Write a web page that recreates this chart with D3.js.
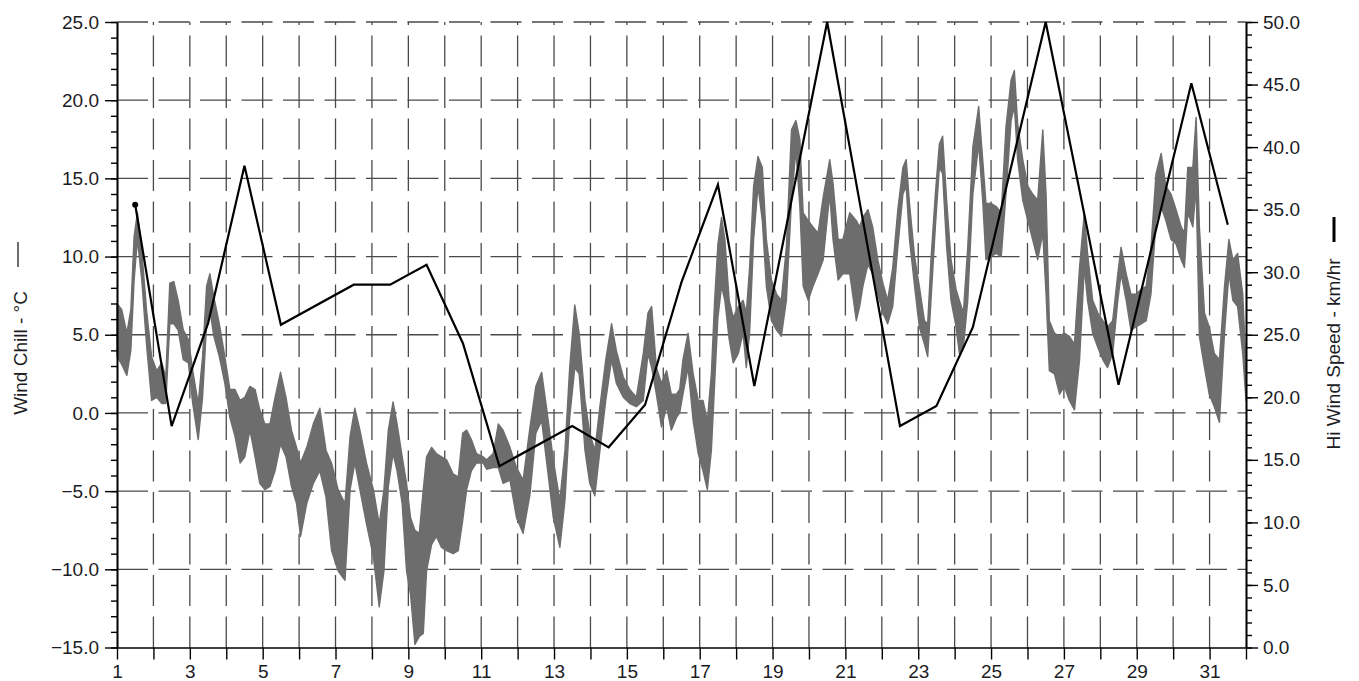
<!DOCTYPE html>
<html>
<head>
<meta charset="utf-8">
<script src="https://cdn.jsdelivr.net/npm/d3@7"></script>
<style>
  body { margin: 0; background: #fff; }
  text { font-family: "Liberation Sans", Arial, sans-serif; }
</style>
</head>
<body>
<div id="chart"></div>
<script>
const chillDay = [1.00,1.13,1.27,1.38,1.47,1.56,1.68,1.81,1.95,2.09,2.23,2.34,2.45,2.56,2.68,2.82,2.96,3.08,3.23,3.35,3.46,3.55,3.66,3.81,3.96,
  4.10,4.24,4.38,4.51,4.65,4.79,4.92,5.06,5.20,5.34,5.49,5.64,5.79,5.93,6.04,6.21,6.39,6.57,6.74,6.89,7.07,7.26,7.40,7.53,7.67,7.85,
  8.04,8.20,8.33,8.45,8.58,8.69,8.83,8.95,9.06,9.18,9.30,9.41,9.50,9.64,9.77,9.91,10.05,10.23,10.37,10.49,10.60,10.73,10.87,11.05,
  11.15,11.33,11.47,11.60,11.79,11.97,12.15,12.34,12.50,12.66,12.79,12.98,13.16,13.30,13.43,13.57,13.69,13.85,13.98,14.12,14.26,14.42,
  14.58,14.71,14.90,15.08,15.26,15.45,15.58,15.68,15.81,15.95,16.09,16.22,16.36,16.45,16.54,16.68,16.82,16.96,17.09,17.21,17.32,17.41,
  17.50,17.60,17.69,17.81,17.92,18.06,18.19,18.28,18.37,18.48,18.60,18.72,18.83,18.97,19.11,19.24,19.38,19.52,19.64,19.75,19.84,19.98,
  20.11,20.25,20.39,20.57,20.66,20.80,20.93,21.12,21.30,21.39,21.48,21.62,21.75,21.89,22.03,22.16,22.30,22.44,22.58,22.67,22.76,22.90,
  23.03,23.17,23.26,23.35,23.47,23.58,23.67,23.78,23.90,24.04,24.13,24.24,24.36,24.50,24.66,24.77,24.86,25.00,25.14,25.28,25.41,25.55,
  25.64,25.73,25.87,26.01,26.14,26.28,26.42,26.51,26.60,26.74,26.88,27.01,27.15,27.29,27.43,27.56,27.65,27.79,27.93,28.07,28.20,28.34,
  28.48,28.57,28.71,28.84,28.98,29.12,29.26,29.39,29.53,29.67,29.80,29.94,30.08,30.22,30.31,30.40,30.54,30.63,30.72,30.86,30.99,31.13,
  31.27,31.41,31.53,31.64,31.77,31.91,32.00];
const chillLow = [3.6,3.1,2.4,4.0,8.5,11.1,8.5,4.4,0.8,1.0,0.6,0.6,5.7,5.7,5.3,3.4,3.2,0.6,-1.7,1.0,5.7,6.6,4.9,3.6,1.9,
  -0.3,-1.5,-3.2,-2.8,-1.1,-2.8,-4.5,-4.9,-4.7,-3.7,-2.0,-2.8,-4.7,-5.8,-7.9,-5.8,-4.5,-3.7,-5.4,-8.8,-10.1,-10.7,-4.9,-3.2,-4.9,-7.1,
  -9.2,-12.4,-10.1,-4.7,-2.6,-3.7,-5.8,-10.1,-11.6,-14.8,-14.3,-14.1,-10.1,-8.4,-7.9,-8.6,-8.8,-9.0,-8.8,-6.9,-4.9,-3.7,-3.2,-3.2,
  -3.6,-3.5,-3.5,-4.5,-4.3,-6.7,-7.7,-5.2,-1.3,-0.5,-3.0,-6.7,-8.6,-5.6,-0.3,2.9,2.5,-2.4,-4.5,-5.3,-2.4,0.8,
  3.4,1.9,1.0,0.6,0.4,0.8,3.8,2.9,1.2,-0.9,0.4,-1.1,-0.3,0.0,1.2,2.9,-0.5,-2.6,-3.7,-4.9,-2.4,1.9,
  6.1,8.1,7.2,4.7,3.2,3.8,5.1,2.9,5.1,11.1,14.5,12.3,8.1,5.9,5.3,4.9,7.2,13.6,16.8,13.2,8.1,7.2,
  8.1,8.9,9.8,14.0,11.1,8.5,8.9,8.9,5.9,6.8,8.1,9.5,8.9,7.6,6.4,5.7,6.8,10.6,14.0,14.5,11.1,8.1,
  5.5,4.4,3.6,7.2,11.9,15.7,15.3,10.6,7.2,5.5,3.8,4.2,7.2,14.0,17.2,13.6,9.8,10.0,10.2,10.0,14.0,18.7,
  19.6,16.2,13.6,12.3,11.1,9.8,11.5,7.6,2.7,2.5,1.2,1.7,0.8,0.2,3.4,9.3,7.2,5.1,4.2,3.4,2.9,3.8,
  7.2,8.9,7.2,5.3,5.5,5.7,5.9,7.6,12.3,13.2,12.3,11.1,10.8,9.8,9.3,12.8,11.9,14.5,4.9,2.9,1.2,0.4,
  -0.6,5.1,8.9,7.2,6.8,3.8,0.8];
const chillHigh = [7.0,6.6,5.1,6.6,11.3,12.8,10.4,6.6,3.6,2.7,3.2,2.3,8.3,8.4,7.2,5.3,4.7,2.7,0.6,3.6,8.1,8.9,7.4,5.7,3.6,
  1.5,1.5,0.8,1.0,1.7,1.5,0.2,-0.7,-0.7,1.0,2.6,1.0,-1.1,-2.2,-3.2,-2.2,-0.7,0.3,-2.4,-3.2,-4.9,-5.8,-1.5,0.3,-1.1,-3.2,
  -4.9,-7.1,-4.9,-1.1,0.7,-0.7,-2.8,-4.5,-6.7,-7.5,-7.7,-4.9,-2.8,-2.2,-2.6,-2.8,-3.0,-3.9,-4.1,-1.3,-1.1,-1.7,-2.6,-2.8,
  -3.0,-2.6,-0.7,-1.1,-2.2,-3.5,-4.3,-0.9,1.7,2.6,0.4,-3.0,-5.6,-2.4,2.9,6.9,5.1,0.8,-1.3,-2.4,0.4,3.4,
  5.7,4.0,2.3,1.5,1.0,3.8,6.4,6.8,2.9,1.9,2.7,1.2,1.2,1.5,3.4,5.1,2.5,0.8,0.8,-0.5,2.5,7.2,
  10.8,12.5,11.1,7.2,6.1,6.8,7.2,6.4,9.3,14.5,16.4,15.7,11.1,8.5,7.6,7.2,10.6,18.1,18.7,17.5,12.8,12.3,
  11.9,11.5,13.8,16.2,14.7,11.1,11.1,12.8,12.3,11.9,12.5,13.0,11.9,9.8,8.3,7.2,9.3,13.0,15.7,16.2,13.4,10.0,
  8.1,5.9,5.7,9.8,14.0,17.2,17.7,13.6,9.8,7.9,7.2,6.4,10.6,17.0,19.6,16.2,13.4,13.4,13.2,12.8,18.3,21.3,
  21.9,18.5,16.2,14.5,14.0,13.6,18.1,14.0,5.9,5.1,4.9,5.1,4.9,4.4,9.3,12.8,10.2,7.2,6.4,5.9,5.5,5.9,
  8.9,10.6,8.9,7.6,7.6,7.9,8.1,10.6,15.3,16.6,14.5,14.0,13.0,11.9,11.5,15.7,15.7,18.9,11.9,6.4,5.5,3.8,
  3.4,8.1,11.1,9.8,10.2,7.6,3.0];

// daily high wind speed (right axis, km/hr)
const windDay = [1.5,2.5,3.5,4.5,5.5,7.5,8.5,9.5,10.5,11.5,13.5,14.5,15.5,16.5,17.5,18.5,20.5,22.5,23.5,24.5,26.5,28.5,30.5,31.5];
const windHi = [35.4,17.7,25.9,38.5,25.8,29.0,29.0,30.6,24.3,14.5,17.7,16.0,19.4,29.2,37.0,20.9,50.0,17.7,19.3,25.6,50.0,21.0,45.1,33.8];

const dayTicks = d3.range(1, 33);
const chillTicks = [-15, -10, -5, 0, 5, 10, 15, 20, 25];
const windTicks = [0, 5, 10, 15, 20, 25, 30, 35, 40, 45, 50];

const W = 1359, H = 681;
const plotLeft = 117, plotRight = 1246, plotTop = 22, plotBottom = 647.5;

const svg = d3.select("#chart").append("svg")
  .attr("width", W)
  .attr("height", H);

const x = d3.scaleLinear().domain([1, 32]).range([plotLeft, plotRight]);
const yL = d3.scaleLinear().domain([-15, 25]).range([plotBottom, plotTop]);
const yR = d3.scaleLinear().domain([0, 50]).range([plotBottom, plotTop]);

// dashed grid
const grid = svg.append("g")
  .attr("stroke", "#4a4a4a")
  .attr("stroke-width", 1.3)
  .attr("fill", "none");

grid.selectAll("line.v")
  .data(dayTicks.filter(d => d > 1 && d < 32))
  .enter().append("line")
  .attr("class", "v")
  .attr("x1", d => x(d)).attr("x2", d => x(d))
  .attr("y1", plotBottom).attr("y2", plotTop)
  .attr("stroke-dasharray", "31,10.5");

grid.selectAll("line.h")
  .data(chillTicks.filter(d => d > -15))
  .enter().append("line")
  .attr("class", "h")
  .attr("x1", plotLeft).attr("x2", plotRight)
  .attr("y1", d => yL(d)).attr("y2", d => yL(d))
  .attr("stroke-dasharray", "31,10.5");

// wind chill band
const idx = d3.range(chillDay.length);
const band = d3.area()
  .x(i => x(chillDay[i]))
  .y0(i => yL(chillLow[i]))
  .y1(i => yL(chillHigh[i]));

svg.append("path")
  .datum(idx)
  .attr("d", band)
  .attr("fill", "#6d6d6d")
  .attr("stroke", "#6d6d6d")
  .attr("stroke-width", 1.4)
  .attr("stroke-linejoin", "round");

// hi wind speed line
const windLine = d3.line()
  .x((d, i) => x(windDay[i]))
  .y(d => yR(d));

svg.append("path")
  .datum(windHi)
  .attr("d", windLine)
  .attr("fill", "none")
  .attr("stroke", "#000")
  .attr("stroke-width", 2.2)
  .attr("stroke-linejoin", "miter");

svg.append("circle")
  .attr("cx", x(windDay[0]))
  .attr("cy", yR(windHi[0]))
  .attr("r", 3)
  .attr("fill", "#000");

// axes
function styleAxis(g) {
  g.selectAll("text")
    .attr("font-size", 19)
    .attr("fill", "#1c1c24")
    .style("font-family", "'Liberation Sans', Arial, sans-serif");
  g.selectAll("line").attr("stroke", "#000").attr("stroke-width", 1.4);
  g.select(".domain").attr("stroke", "#000").attr("stroke-width", 1.6);
}

svg.append("g")
  .attr("transform", `translate(${plotLeft},0)`)
  .call(d3.axisLeft(yL).tickValues(d3.range(-15, 26, 1)).tickSize(6).tickSizeOuter(0).tickFormat(""))
  .call(styleAxis);
svg.append("g")
  .attr("transform", `translate(${plotLeft},0)`)
  .call(d3.axisLeft(yL).tickValues(chillTicks).tickSize(12).tickSizeOuter(0).tickPadding(6).tickFormat(d3.format(".1f")))
  .call(styleAxis);

svg.append("g")
  .attr("transform", `translate(${plotRight},0)`)
  .call(d3.axisRight(yR).tickValues(d3.range(0, 51, 1)).tickSize(6).tickSizeOuter(0).tickFormat(""))
  .call(styleAxis);
svg.append("g")
  .attr("transform", `translate(${plotRight},0)`)
  .call(d3.axisRight(yR).tickValues(windTicks).tickSize(12).tickSizeOuter(0).tickPadding(5).tickFormat(d3.format(".1f")))
  .call(styleAxis);

svg.append("g")
  .attr("transform", `translate(0,${plotBottom})`)
  .call(d3.axisBottom(x).tickValues(dayTicks).tickSize(12).tickSizeOuter(0).tickPadding(5).tickFormat(d => d % 2 ? d : ""))
  .call(styleAxis);

// axis titles with their legend strokes
svg.append("line")
  .attr("x1", 18).attr("x2", 18)
  .attr("y1", 242).attr("y2", 267)
  .attr("stroke", "#6d6d6d").attr("stroke-width", 2);
svg.append("text")
  .attr("transform", "translate(27,353) rotate(-90)")
  .attr("text-anchor", "middle")
  .attr("font-size", 19)
  .attr("fill", "#1c1c24")
  .text("Wind Chill - °C");

svg.append("line")
  .attr("x1", 1334).attr("x2", 1334)
  .attr("y1", 217).attr("y2", 242)
  .attr("stroke", "#000").attr("stroke-width", 3);
svg.append("text")
  .attr("transform", "translate(1340,354) rotate(-90)")
  .attr("text-anchor", "middle")
  .attr("font-size", 19)
  .attr("fill", "#1c1c24")
  .text("Hi Wind Speed - km/hr");
</script>
</body>
</html>
